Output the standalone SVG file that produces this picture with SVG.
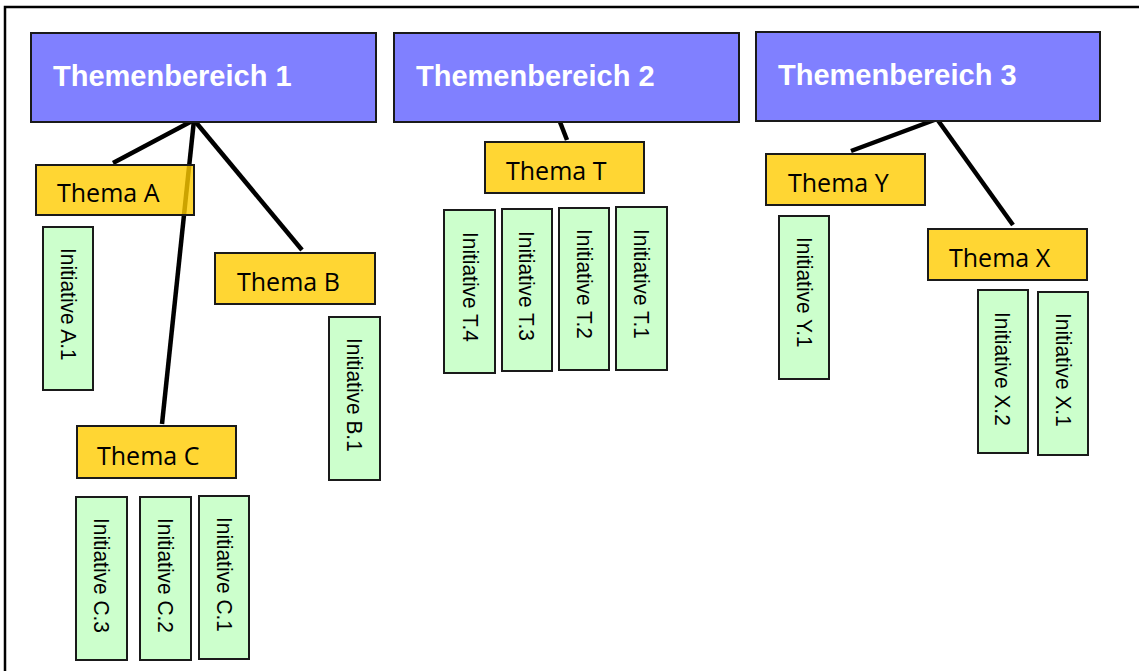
<svg xmlns="http://www.w3.org/2000/svg" width="1139" height="671" viewBox="0 0 1139 671">
  <style>
    .area rect { fill: #8080FF; stroke: #1a1a1a; stroke-width: 2; }
    .area text { font-family: "Liberation Sans", Arial, sans-serif; font-weight: bold; font-size: 29px; fill: #ffffff; }
    .theme rect { fill: #FFCC00; fill-opacity: 0.8; stroke: #1a1a1a; stroke-width: 2; }
    .theme text { font-family: "Open Sans", "Noto Sans", sans-serif; font-size: 25px; fill: #000000; }
    .init rect { fill: #CCFFCC; stroke: #1a1a1a; stroke-width: 2; }
    .init text { font-family: "Liberation Sans", Arial, sans-serif; font-size: 22px; fill: #000000; }
    #connectors line { stroke: #000000; stroke-width: 4.5; }
  </style>

  <!-- frame -->
  <path d="M5,671 V7 H1139" fill="none" stroke="#000" stroke-width="2.5"/>

  <!-- connectors (drawn under the boxes) -->
  <g id="connectors">
    <line x1="194" y1="120" x2="113" y2="163"/>
    <line x1="194" y1="120" x2="162" y2="424"/>
    <line x1="194" y1="120" x2="302" y2="250"/>
    <line x1="560" y1="122" x2="567" y2="140"/>
    <line x1="937" y1="119" x2="851" y2="151"/>
    <line x1="937" y1="119" x2="1013" y2="225"/>
  </g>

  <!-- topic areas -->
  <g id="area1" class="area"><rect x="31" y="33" width="345" height="89"/><text x="53" y="86">Themenbereich 1</text></g>
  <g id="area2" class="area"><rect x="394" y="33" width="345" height="89"/><text x="416" y="86">Themenbereich 2</text></g>
  <g id="area3" class="area"><rect x="756" y="32" width="344" height="89"/><text x="778" y="85">Themenbereich 3</text></g>

  <!-- themes -->
  <g id="themeA" class="theme"><rect x="36" y="165" width="158" height="50"/><text x="57" y="202">Thema A</text></g>
  <g id="themeB" class="theme"><rect x="215" y="253" width="160" height="51"/><text x="237" y="291">Thema B</text></g>
  <g id="themeC" class="theme"><rect x="77" y="426" width="159" height="52"/><text x="97" y="465">Thema C</text></g>
  <g id="themeT" class="theme"><rect x="485" y="142" width="159" height="51"/><text x="506" y="180">Thema T</text></g>
  <g id="themeY" class="theme"><rect x="766" y="154" width="159" height="51"/><text x="788" y="192">Thema Y</text></g>
  <g id="themeX" class="theme"><rect x="928" y="229" width="159" height="51"/><text x="949" y="267">Thema X</text></g>

  <!-- initiatives (vertical labels, slightly condensed) -->
  <g id="initA1" class="init"><rect x="43" y="227" width="50" height="163"/><text transform="translate(61,248) rotate(90) scale(0.95,1)">Initiative A.1</text></g>
  <g id="initB1" class="init"><rect x="329" y="317" width="51" height="163"/><text transform="translate(347,338) rotate(90) scale(0.95,1)">Initiative B.1</text></g>
  <g id="initC3" class="init"><rect x="76" y="497" width="51" height="163"/><text transform="translate(94,518) rotate(90) scale(0.95,1)">Initiative C.3</text></g>
  <g id="initC2" class="init"><rect x="140" y="497" width="51" height="163"/><text transform="translate(158,518) rotate(90) scale(0.95,1)">Initiative C.2</text></g>
  <g id="initC1" class="init"><rect x="199" y="496" width="50" height="163"/><text transform="translate(217,517) rotate(90) scale(0.95,1)">Initiative C.1</text></g>
  <g id="initT4" class="init"><rect x="444" y="210" width="51" height="163"/><text transform="translate(463,232) rotate(90) scale(0.95,1)">Initiative T.4</text></g>
  <g id="initT3" class="init"><rect x="502" y="209" width="50" height="162"/><text transform="translate(519,231) rotate(90) scale(0.95,1)">Initiative T.3</text></g>
  <g id="initT2" class="init"><rect x="559" y="208" width="50" height="162"/><text transform="translate(577,229) rotate(90) scale(0.95,1)">Initiative T.2</text></g>
  <g id="initT1" class="init"><rect x="616" y="207" width="51" height="163"/><text transform="translate(634,229) rotate(90) scale(0.95,1)">Initiative T.1</text></g>
  <g id="initY1" class="init"><rect x="779" y="216" width="50" height="163"/><text transform="translate(797,237) rotate(90) scale(0.95,1)">Initiative Y.1</text></g>
  <g id="initX2" class="init"><rect x="978" y="290" width="50" height="163"/><text transform="translate(995,312) rotate(90) scale(0.95,1)">Initiative X.2</text></g>
  <g id="initX1" class="init"><rect x="1038" y="292" width="50" height="163"/><text transform="translate(1056,313) rotate(90) scale(0.95,1)">Initiative X.1</text></g>
</svg>
